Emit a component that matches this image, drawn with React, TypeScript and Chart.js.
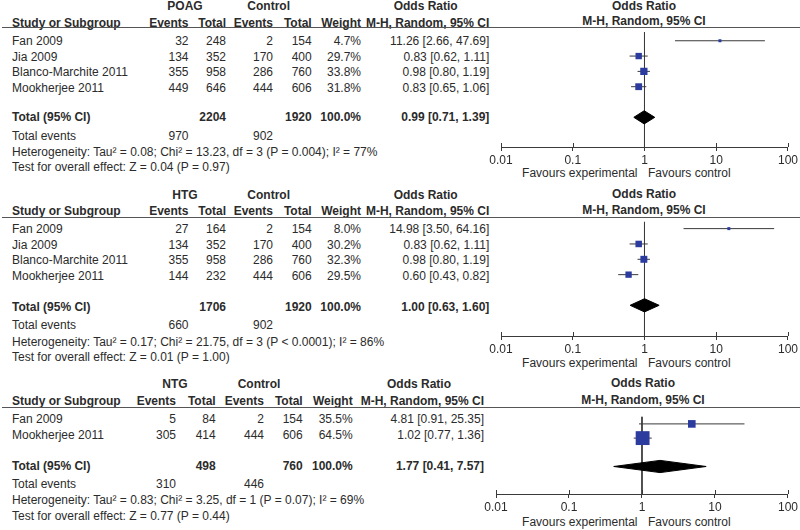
import React, { useEffect, useRef } from "react";
import { Chart, registerables } from "chart.js";

Chart.register(...registerables);

const FONT = '"Liberation Sans", Arial, Helvetica, sans-serif';
const TEXT = "#2b2b2b";
const LINE = "#3a3a3a";
const SQUARE = "#2c3b9e";
const FS = 12;

// ---------- POAG ----------
const poagStudies = ["Fan 2009", "Jia 2009", "Blanco-Marchite 2011", "Mookherjee 2011"];
const poagEvents = [32, 134, 355, 449];
const poagTotal = [248, 352, 958, 646];
const poagCtrlEvents = [2, 170, 286, 444];
const poagCtrlTotal = [154, 400, 760, 606];
const poagWeight = [4.7, 29.7, 33.8, 31.8];
const poagOR = [11.26, 0.83, 0.98, 0.83];
const poagLo = [2.66, 0.62, 0.8, 0.65];
const poagHi = [47.69, 1.11, 1.19, 1.06];
const poagPooled = [0.99, 0.71, 1.39];
const poagSums = [2204, 1920, 970, 902];
const poagHet = "Heterogeneity: Tau\u00b2 = 0.08; Chi\u00b2 = 13.23, df = 3 (P = 0.004); I\u00b2 = 77%";
const poagTest = "Test for overall effect: Z = 0.04 (P = 0.97)";

// ---------- HTG ----------
const htgStudies = ["Fan 2009", "Jia 2009", "Blanco-Marchite 2011", "Mookherjee 2011"];
const htgEvents = [27, 134, 355, 144];
const htgTotal = [164, 352, 958, 232];
const htgCtrlEvents = [2, 170, 286, 444];
const htgCtrlTotal = [154, 400, 760, 606];
const htgWeight = [8.0, 30.2, 32.3, 29.5];
const htgOR = [14.98, 0.83, 0.98, 0.6];
const htgLo = [3.5, 0.62, 0.8, 0.43];
const htgHi = [64.16, 1.11, 1.19, 0.82];
const htgPooled = [1.0, 0.63, 1.6];
const htgSums = [1706, 1920, 660, 902];
const htgHet = "Heterogeneity: Tau\u00b2 = 0.17; Chi\u00b2 = 21.75, df = 3 (P < 0.0001); I\u00b2 = 86%";
const htgTest = "Test for overall effect: Z = 0.01 (P = 1.00)";

// ---------- NTG ----------
const ntgStudies = ["Fan 2009", "Mookherjee 2011"];
const ntgEvents = [5, 305];
const ntgTotal = [84, 414];
const ntgCtrlEvents = [2, 444];
const ntgCtrlTotal = [154, 606];
const ntgWeight = [35.5, 64.5];
const ntgOR = [4.81, 1.02];
const ntgLo = [0.91, 0.77];
const ntgHi = [25.35, 1.36];
const ntgPooled = [1.77, 0.41, 7.57];
const ntgSums = [498, 760, 310, 446];
const ntgHet = "Heterogeneity: Tau\u00b2 = 0.83; Chi\u00b2 = 3.25, df = 1 (P = 0.07); I\u00b2 = 69%";
const ntgTest = "Test for overall effect: Z = 0.77 (P = 0.44)";

// ---------- axis ----------
const axisTicks = [0.01, 0.1, 1, 10, 100];
const axisTickLabels = ["0.01", "0.1", "1", "10", "100"];
const favLeft = "Favours experimental";
const favRight = "Favours control";

type Cols = { study: number; ev: number; tot: number; cev: number; ctot: number; w: number; or: number; grp: number; ctl: number; orHead: number };
const colsA: Cols = { study: 12, ev: 188.5, tot: 226, cev: 273, ctot: 311.7, w: 361, or: 489.3, grp: 185, ctl: 268.7, orHead: 425.7 };
const colsB: Cols = { study: 12, ev: 176, tot: 215.7, cev: 264, ctot: 302.7, w: 352.7, or: 484, grp: 175, ctl: 259, orHead: 419 };

function T(props: { x: number; y: number; text: string | number; align?: "left" | "right" | "center"; bold?: boolean; size?: number }) {
  const { x, y, text, align = "left", bold = false, size = FS } = props;
  const w = 420;
  const left = align === "left" ? x : align === "right" ? x - w : x - w / 2;
  return (
    <div
      style={{
        position: "absolute",
        left,
        top: y - 7,
        width: w,
        height: 14,
        lineHeight: "14px",
        textAlign: align,
        fontWeight: bold ? "bold" : "normal",
        fontSize: size,
        fontFamily: FONT,
        color: TEXT,
        whiteSpace: "nowrap",
      }}
    >
      {text}
    </div>
  );
}

const tickUpPlugin = {
  id: "tickUp",
  afterDraw(chart: any) {
    const s = chart.scales.x;
    const yb = chart.chartArea.bottom;
    const ctx = chart.ctx;
    ctx.save();
    ctx.strokeStyle = LINE;
    ctx.lineWidth = 1;
    axisTicks.forEach((v) => {
      const px = Math.round(s.getPixelForValue(v)) + 0.5;
      ctx.beginPath();
      ctx.moveTo(px, yb - 4);
      ctx.lineTo(px, yb);
      ctx.stroke();
    });
    ctx.restore();
  },
};

function Forest(props: {
  or: number[]; lo: number[]; hi: number[]; weight: number[]; pooled: number[];
  top: number; axisY: number; rowMin: number; rowMax: number; padLeft: number;
}) {
  const ref = useRef<HTMLCanvasElement>(null);
  const AXIS_H = 20;
  const height = props.axisY - props.top + AXIS_H;
  useEffect(() => {
    const { or, lo, hi, weight, pooled, rowMin, rowMax, padLeft } = props;
    const n = or.length;
    const pr = n + 2;
    const dh = 0.43;
    const datasets: any[] = [];
    datasets.push({
      data: or.map((v, i) => ({ x: v, y: i + 1 })),
      showLine: false,
      pointStyle: "rect",
      pointRadius: weight.map((w) => Math.max(3, w * 0.215) / Math.SQRT2),
      backgroundColor: SQUARE,
      borderWidth: 0,
      clip: false,
    });
    datasets.push({
      data: [{ x: pooled[1], y: pr }, { x: pooled[0], y: pr - dh }, { x: pooled[2], y: pr }],
      showLine: true, pointRadius: 0, borderColor: "#000", borderWidth: 1, tension: 0, clip: false,
      fill: false,
    });
    datasets.push({
      data: [{ x: pooled[1], y: pr }, { x: pooled[0], y: pr + dh }, { x: pooled[2], y: pr }],
      showLine: true, pointRadius: 0, borderColor: "#000", borderWidth: 1, tension: 0, clip: false,
      fill: "-1", backgroundColor: "#000",
    });
    or.forEach((_, i) => {
      datasets.push({
        data: [{ x: lo[i], y: i + 1 }, { x: hi[i], y: i + 1 }],
        showLine: true, pointRadius: 0, borderColor: LINE, borderWidth: 1, clip: false,
      });
    });
    datasets.push({
      data: [{ x: 1, y: rowMin }, { x: 1, y: rowMax }],
      showLine: true, pointRadius: 0, borderColor: LINE, borderWidth: 1, clip: false,
    });
    const chart = new Chart(ref.current as HTMLCanvasElement, {
      type: "scatter",
      data: { datasets },
      plugins: [tickUpPlugin],
      options: {
        animation: false,
        responsive: false,
        events: [],
        layout: { padding: { left: padLeft, right: 12, top: 0, bottom: 0 } },
        plugins: { legend: { display: false }, tooltip: { enabled: false } },
        scales: {
          x: {
            type: "logarithmic",
            min: 0.01,
            max: 100,
            afterBuildTicks: (s: any) => {
              s.ticks = axisTicks.map((v) => ({ value: v }));
            },
            afterFit: (s: any) => {
              s.height = AXIS_H;
            },
            ticks: {
              autoSkip: false,
              maxRotation: 0,
              padding: 2,
              color: TEXT,
              font: { family: FONT, size: FS },
              callback: (v: any) => {
                const idx = axisTicks.findIndex((t) => Math.abs(t - Number(v)) < 1e-9);
                return idx >= 0 ? axisTickLabels[idx] : "";
              },
            },
            grid: { display: true, drawOnChartArea: false, drawTicks: true, tickLength: 4, color: LINE, lineWidth: 1 },
            border: { display: true, color: LINE, width: 1 },
          },
          y: { type: "linear", reverse: true, min: rowMin, max: rowMax, display: false },
        },
      } as any,
    });
    return () => chart.destroy();
  }, []);
  return (
    <canvas
      ref={ref}
      width={320}
      height={height}
      style={{ position: "absolute", left: 480, top: props.top, width: 320, height }}
    />
  );
}

type Layout = {
  head: number; sub: number; line: number; row0: number; step: number; total: number;
  events: number; het: number; test: number; rhead: number; rsub: number; fav: number;
  axisY: number; rowMin: number; rowMax: number; padLeft: number; cols: Cols; rcenter: number;
};

function Panel(props: {
  group: string; studies: string[]; ev: number[]; tot: number[]; cev: number[]; ctot: number[];
  weight: number[]; or: number[]; lo: number[]; hi: number[]; pooled: number[]; sums: number[];
  het: string; test: string; L: Layout;
}) {
  const { L } = props;
  const c = L.cols;
  const fmt = (v: number) => v.toFixed(2);
  return (
    <>
      <T x={c.grp} y={L.head} text={props.group} align="center" bold />
      <T x={c.ctl} y={L.head} text="Control" align="center" bold />
      <T x={c.orHead} y={L.head} text="Odds Ratio" align="center" bold />
      <T x={c.study} y={L.sub} text="Study or Subgroup" bold />
      <T x={c.ev} y={L.sub} text="Events" align="right" bold />
      <T x={c.tot} y={L.sub} text="Total" align="right" bold />
      <T x={c.cev} y={L.sub} text="Events" align="right" bold />
      <T x={c.ctot} y={L.sub} text="Total" align="right" bold />
      <T x={c.w} y={L.sub} text="Weight" align="right" bold />
      <T x={c.or} y={L.sub} text="M-H, Random, 95% CI" align="right" bold />
      <T x={L.rcenter} y={L.rhead} text="Odds Ratio" align="center" bold />
      <T x={L.rcenter} y={L.rsub} text="M-H, Random, 95% CI" align="center" bold />
      <div style={{ position: "absolute", left: 2, top: L.line - 0.5, width: 798, height: 1.5, background: "#555" }} />
      {props.studies.map((s, i) => {
        const y = L.row0 + i * L.step;
        return (
          <React.Fragment key={s + i}>
            <T x={c.study} y={y} text={s} />
            <T x={c.ev} y={y} text={props.ev[i]} align="right" />
            <T x={c.tot} y={y} text={props.tot[i]} align="right" />
            <T x={c.cev} y={y} text={props.cev[i]} align="right" />
            <T x={c.ctot} y={y} text={props.ctot[i]} align="right" />
            <T x={c.w} y={y} text={props.weight[i].toFixed(1) + "%"} align="right" />
            <T x={c.or} y={y} text={`${fmt(props.or[i])} [${fmt(props.lo[i])}, ${fmt(props.hi[i])}]`} align="right" />
          </React.Fragment>
        );
      })}
      <T x={c.study} y={L.total} text="Total (95% CI)" bold />
      <T x={c.tot} y={L.total} text={props.sums[0]} align="right" bold />
      <T x={c.ctot} y={L.total} text={props.sums[1]} align="right" bold />
      <T x={c.w} y={L.total} text="100.0%" align="right" bold />
      <T x={c.or} y={L.total} text={`${fmt(props.pooled[0])} [${fmt(props.pooled[1])}, ${fmt(props.pooled[2])}]`} align="right" bold />
      <T x={c.study} y={L.events} text="Total events" />
      <T x={c.ev} y={L.events} text={props.sums[2]} align="right" />
      <T x={c.cev} y={L.events} text={props.sums[3]} align="right" />
      <T x={c.study} y={L.het} text={props.het} />
      <T x={c.study} y={L.test} text={props.test} />
      <T x={637.5} y={L.fav} text={favLeft} align="right" />
      <T x={648} y={L.fav} text={favRight} align="left" />
      <Forest
        or={props.or} lo={props.lo} hi={props.hi} weight={props.weight} pooled={props.pooled}
        top={L.line} axisY={L.axisY} rowMin={L.rowMin} rowMax={L.rowMax} padLeft={L.padLeft}
      />
    </>
  );
}

const L1: Layout = { head: 6, sub: 22.5, line: 27, row0: 40.7, step: 15.8, total: 117.3, events: 136, het: 152.3, test: 167, rhead: 6, rsub: 20.7, fav: 173, axisY: 147, rowMin: 0.4375, rowMax: 7.9375, padLeft: 21, cols: colsA, rcenter: 644 };
const L2: Layout = { head: 195, sub: 210.7, line: 217, row0: 229, step: 15.7, total: 307, events: 324.7, het: 341.7, test: 356.7, rhead: 194.3, rsub: 210, fav: 363, axisY: 336, rowMin: 0.5625, rowMax: 8.0, padLeft: 21, cols: colsA, rcenter: 644 };
const L3: Layout = { head: 384, sub: 400.7, line: 407, row0: 419, step: 16, total: 465.7, events: 483.7, het: 500, test: 515.7, rhead: 383.3, rsub: 400, fav: 521.7, axisY: 494, rowMin: 0.5, rowMax: 5.9375, padLeft: 16, cols: colsB, rcenter: 643 };

export default function App() {
  return (
    <div style={{ position: "fixed", left: 0, top: 0, width: 800, height: 530, background: "#fff", overflow: "hidden" }}>
      <Panel group="POAG" studies={poagStudies} ev={poagEvents} tot={poagTotal} cev={poagCtrlEvents} ctot={poagCtrlTotal}
        weight={poagWeight} or={poagOR} lo={poagLo} hi={poagHi} pooled={poagPooled} sums={poagSums} het={poagHet} test={poagTest} L={L1} />
      <Panel group="HTG" studies={htgStudies} ev={htgEvents} tot={htgTotal} cev={htgCtrlEvents} ctot={htgCtrlTotal}
        weight={htgWeight} or={htgOR} lo={htgLo} hi={htgHi} pooled={htgPooled} sums={htgSums} het={htgHet} test={htgTest} L={L2} />
      <Panel group="NTG" studies={ntgStudies} ev={ntgEvents} tot={ntgTotal} cev={ntgCtrlEvents} ctot={ntgCtrlTotal}
        weight={ntgWeight} or={ntgOR} lo={ntgLo} hi={ntgHi} pooled={ntgPooled} sums={ntgSums} het={ntgHet} test={ntgTest} L={L3} />
    </div>
  );
}
